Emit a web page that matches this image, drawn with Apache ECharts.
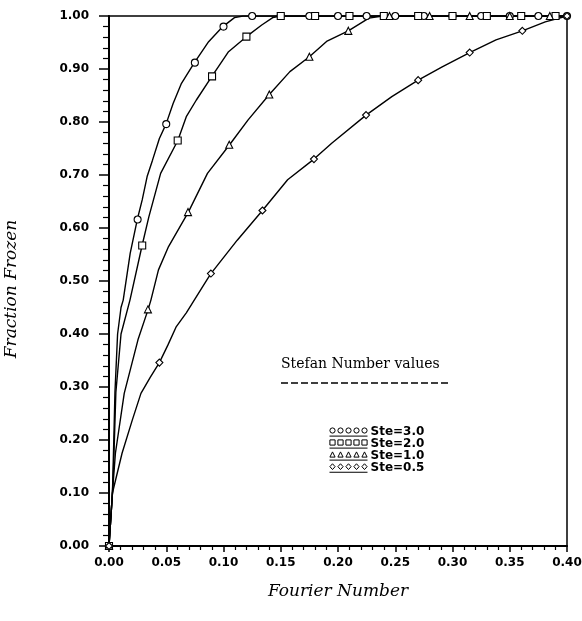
<!DOCTYPE html>
<html>
<head>
<meta charset="utf-8">
<script src="https://cdn.jsdelivr.net/npm/echarts@6/dist/echarts.min.js"></script>
<style>
html,body{margin:0;padding:0;background:#fff;}
#chart{width:582px;height:621px;}
</style>
</head>
<body>
<div id="chart"></div>
<script>
// ---------------- data ----------------
const seriesNames = ['Ste=3.0', 'Ste=2.0', 'Ste=1.0', 'Ste=0.5'];
const xTickValues = [0, 0.05, 0.10, 0.15, 0.20, 0.25, 0.30, 0.35, 0.40];
const yTickValues = [0, 0.1, 0.2, 0.3, 0.4, 0.5, 0.6, 0.7, 0.8, 0.9, 1.0];

const ste30Curve = [[0,0],[0.003,0.10],[0.0042,0.20],[0.0052,0.29],[0.0075,0.40],[0.0105,0.45],[0.0124,0.464],[0.0185,0.552],[0.0247,0.616],[0.029,0.653],[0.0333,0.697],[0.038,0.728],[0.044,0.769],[0.0498,0.796],[0.056,0.835],[0.0633,0.873],[0.0746,0.912],[0.087,0.9515],[0.0994,0.980],[0.1096,0.997],[0.117,1.0],[0.40,1.0]];
const ste30Marks = [[0,0],[0.025,0.616],[0.05,0.796],[0.075,0.912],[0.10,0.980],[0.125,1.0],[0.15,1.0],[0.175,1.0],[0.20,1.0],[0.225,1.0],[0.25,1.0],[0.275,1.0],[0.30,1.0],[0.325,1.0],[0.35,1.0],[0.375,1.0],[0.40,1.0]];

const ste20Curve = [[0,0],[0.003,0.10],[0.004,0.15],[0.006,0.29],[0.0105,0.40],[0.0183,0.464],[0.0289,0.567],[0.0348,0.621],[0.0451,0.703],[0.0601,0.765],[0.0675,0.810],[0.0763,0.8415],[0.0897,0.8855],[0.1044,0.9327],[0.120,0.961],[0.1334,0.983],[0.143,0.997],[0.150,1.0],[0.40,1.0]];
const ste20Marks = [[0,0],[0.029,0.567],[0.060,0.765],[0.090,0.886],[0.120,0.961],[0.150,1.0],[0.180,1.0],[0.210,1.0],[0.240,1.0],[0.270,1.0],[0.300,1.0],[0.330,1.0],[0.360,1.0],[0.390,1.0]];

const ste10Curve = [[0,0],[0.003,0.10],[0.0056,0.175],[0.0133,0.288],[0.0253,0.389],[0.0342,0.4465],[0.0366,0.464],[0.0432,0.521],[0.052,0.565],[0.0693,0.630],[0.086,0.703],[0.1053,0.757],[0.1215,0.804],[0.140,0.852],[0.158,0.895],[0.175,0.923],[0.190,0.952],[0.209,0.972],[0.227,0.996],[0.239,1.0],[0.40,1.0]];
const ste10Marks = [[0,0],[0.034,0.4465],[0.069,0.630],[0.105,0.757],[0.140,0.852],[0.175,0.923],[0.209,0.972],[0.245,1.0],[0.280,1.0],[0.315,1.0],[0.350,1.0],[0.385,1.0]];

const ste05Curve = [[0,0],[0.003,0.10],[0.0114,0.175],[0.0204,0.238],[0.0279,0.288],[0.036,0.318],[0.044,0.346],[0.0514,0.379],[0.0588,0.414],[0.0675,0.440],[0.0855,0.502],[0.089,0.514],[0.112,0.577],[0.134,0.633],[0.156,0.691],[0.179,0.730],[0.1945,0.760],[0.2245,0.813],[0.247,0.848],[0.270,0.879],[0.291,0.904],[0.315,0.931],[0.338,0.955],[0.361,0.972],[0.381,0.989],[0.40,1.0]];
const ste05Marks = [[0,0],[0.044,0.346],[0.089,0.514],[0.134,0.633],[0.179,0.730],[0.2245,0.813],[0.270,0.879],[0.315,0.931],[0.361,0.972],[0.40,1.0]];

const curves = [ste30Curve, ste20Curve, ste10Curve, ste05Curve];
const marks = [ste30Marks, ste20Marks, ste10Marks, ste05Marks];

// ---------------- styling ----------------
const symbols = ['circle', 'rect', 'triangle', 'diamond'];

function legendPath(kind) {
  const r = 2.6, cy = 3;
  let d = '';
  for (let i = 0; i < 5; i++) {
    const cx = 3 + i * 8;
    if (kind === 'circle') d += `M${cx-r},${cy}A${r},${r} 0 1,0 ${cx+r},${cy}A${r},${r} 0 1,0 ${cx-r},${cy}Z`;
    else if (kind === 'rect') d += `M${cx-r},${cy-r}L${cx+r},${cy-r}L${cx+r},${cy+r}L${cx-r},${cy+r}Z`;
    else if (kind === 'triangle') d += `M${cx},${cy-r}L${cx+r},${cy+r}L${cx-r},${cy+r}Z`;
    else d += `M${cx},${cy-r-0.3}L${cx+r},${cy}L${cx},${cy+r+0.3}L${cx-r},${cy}Z`;
  }
  d += 'M0,8.6L38,8.6';
  return 'path://' + d;
}

const series = [];
seriesNames.forEach((name, i) => {
  series.push({
    name: name, type: 'line', data: curves[i], showSymbol: false, symbol: 'none',
    lineStyle: { color: '#000', width: 1.4 }, itemStyle: { color: '#000' }, z: 2, animation: false
  });
  series.push({
    name: name, type: 'scatter', data: marks[i], symbol: symbols[i], symbolSize: 7,
    itemStyle: { color: '#fff', borderColor: '#000', borderWidth: 1.1, opacity: 1 }, z: 3, animation: false
  });
});

const tickFont = { fontFamily: 'DejaVu Sans', fontWeight: 'bold', fontSize: 12, color: '#000' };

const chart = echarts.init(document.getElementById('chart'), null, { renderer: 'canvas' });
chart.setOption({
  backgroundColor: '#fff',
  animation: false,
  grid: { left: 109, top: 16, right: 15, bottom: 75, show: true, borderColor: '#000', borderWidth: 1.5, backgroundColor: 'transparent', containLabel: false, outerBoundsMode: 'none' },
  xAxis: {
    type: 'value', min: 0, max: 0.4, interval: 0.05,
    name: 'Fourier Number', nameLocation: 'middle', nameGap: 37,
    nameTextStyle: { fontFamily: 'DejaVu Serif', fontStyle: 'italic', fontSize: 17, color: '#000' },
    axisLine: { lineStyle: { color: '#000', width: 2 } },
    axisTick: { show: true, inside: false, length: 6, lineStyle: { color: '#000', width: 1.5 } },
    minorTick: { show: true, splitNumber: 5, length: 4, lineStyle: { color: '#000', width: 1.2 } },
    splitLine: { show: false },
    axisLabel: Object.assign({ margin: 11, formatter: v => xTickValues.find(t => Math.abs(t - v) < 1e-9) !== undefined ? v.toFixed(2) : '' }, tickFont)
  },
  yAxis: {
    type: 'value', min: 0, max: 1, interval: 0.1,
    name: 'Fraction Frozen', nameLocation: 'middle', nameRotate: 90, nameGap: 89,
    nameTextStyle: { fontFamily: 'DejaVu Serif', fontStyle: 'italic', fontSize: 17, color: '#000', padding: [0, 16, 0, 0] },
    axisLine: { lineStyle: { color: '#000', width: 2 } },
    axisTick: { show: true, inside: false, length: 10, lineStyle: { color: '#000', width: 1.5 } },
    minorTick: { show: true, splitNumber: 5, length: 6, lineStyle: { color: '#000', width: 1.2 } },
    splitLine: { show: false },
    axisLabel: Object.assign({ margin: 20, formatter: v => yTickValues.find(t => Math.abs(t - v) < 1e-9) !== undefined ? v.toFixed(2) : '' }, tickFont)
  },
  legend: {
    orient: 'vertical', left: 329, top: 426, padding: 0, itemGap: 0,
    itemWidth: 38, itemHeight: 9,
    data: seriesNames.map((n, i) => ({ name: n, icon: legendPath(symbols[i]) })),
    itemStyle: { color: '#fff', borderColor: '#000', borderWidth: 1 },
    textStyle: { fontFamily: 'DejaVu Sans', fontWeight: 'bold', fontSize: 12, color: '#000', lineHeight: 12, padding: [0, 0, 0, -2] },
    selectedMode: false
  },
  graphic: [
    { type: 'text', left: 281, top: 357, style: { text: 'Stefan Number values', font: '14px "DejaVu Serif"', fill: '#000' } },
    { type: 'line', shape: { x1: 281, y1: 383, x2: 448, y2: 383 }, style: { stroke: '#000', lineWidth: 1.5, lineDash: [7, 3] } }
  ],
  series: series
});
</script>
</body>
</html>
